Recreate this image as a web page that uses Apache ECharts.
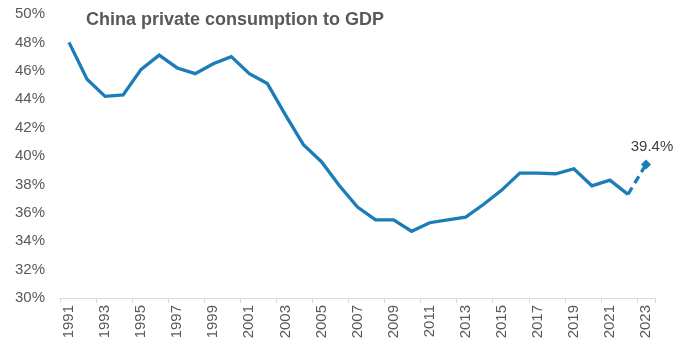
<!DOCTYPE html>
<html>
<head>
<meta charset="utf-8">
<script src="https://cdn.jsdelivr.net/npm/echarts@6/dist/echarts.min.js"></script>
<style>
  html, body { margin: 0; padding: 0; background: #ffffff; }
  #chart { width: 691px; height: 344px; }
</style>
</head>
<body>
<div id="chart"></div>
<script>
// Years shown on the category axis
var years = ['1991','1992','1993','1994','1995','1996','1997','1998','1999','2000',
             '2001','2002','2003','2004','2005','2006','2007','2008','2009','2010',
             '2011','2012','2013','2014','2015','2016','2017','2018','2019','2020',
             '2021','2022','2023'];

// Private consumption as % of GDP (actuals through 2022)
var actual = [48.0, 45.4, 44.2, 44.3, 46.1, 47.1, 46.2, 45.8, 46.5, 47.0,
              45.8, 45.1, 42.9, 40.8, 39.6, 37.9, 36.4, 35.5, 35.5, 34.7,
              35.3, 35.5, 35.7, 36.6, 37.6, 38.8, 38.8, 38.75, 39.1, 37.9,
              38.3, 37.3, null];

// Latest estimate, drawn dashed from the last actual
var estimate = [null, null, null, null, null, null, null, null, null, null,
                null, null, null, null, null, null, null, null, null, null,
                null, null, null, null, null, null, null, null, null, null,
                null, 37.3, 39.4];

var titleText = 'China private consumption to GDP';
var lineColor = '#1b7db8';
var textColor = '#595959';
var fontFamily = '"Liberation Sans", Arial, sans-serif';

var chart = echarts.init(document.getElementById('chart'), null, { renderer: 'canvas' });

chart.setOption({
  animation: false,
  backgroundColor: '#ffffff',
  title: {
    text: titleText,
    left: 81,
    top: 6,
    textStyle: { color: textColor, fontSize: 18, fontWeight: 'bold', fontFamily: fontFamily }
  },
  grid: { left: 60, right: 36, top: 14, bottom: 46, containLabel: false },
  xAxis: {
    type: 'category',
    data: years,
    boundaryGap: true,
    axisLine: { show: true, lineStyle: { color: '#d9d9d9', width: 1 } },
    axisTick: { show: true, interval: 1, length: 5, lineStyle: { color: '#d9d9d9' } },
    axisLabel: {
      interval: 1,
      rotate: 90,
      margin: 7,
      color: textColor,
      fontSize: 15,
      fontFamily: fontFamily
    },
    splitLine: { show: false }
  },
  yAxis: {
    type: 'value',
    min: 30,
    max: 50,
    interval: 2,
    axisLine: { show: false },
    axisTick: { show: false },
    splitLine: { show: false },
    axisLabel: {
      formatter: '{value}%',
      margin: 15,
      color: textColor,
      fontSize: 15,
      fontFamily: fontFamily
    }
  },
  series: [
    {
      type: 'line',
      data: actual,
      showSymbol: false,
      symbol: 'none',
      connectNulls: false,
      lineStyle: { color: lineColor, width: 3.3, join: 'miter' },
      itemStyle: { color: lineColor },
      z: 2
    },
    {
      type: 'line',
      data: estimate,
      symbol: function (v, p) { return p.dataIndex === years.length - 1 ? 'diamond' : 'none'; },
      symbolSize: 10,
      showAllSymbol: true,
      lineStyle: { color: lineColor, width: 3.3, type: [8, 5] },
      itemStyle: { color: lineColor },
      label: {
        show: true,
        position: 'top',
        distance: 5,
        offset: [6, 0],
        color: '#404040',
        fontSize: 15,
        fontFamily: fontFamily,
        formatter: function (p) { return p.dataIndex === years.length - 1 ? p.value + '%' : ''; }
      },
      z: 3
    }
  ]
});
</script>
</body>
</html>
